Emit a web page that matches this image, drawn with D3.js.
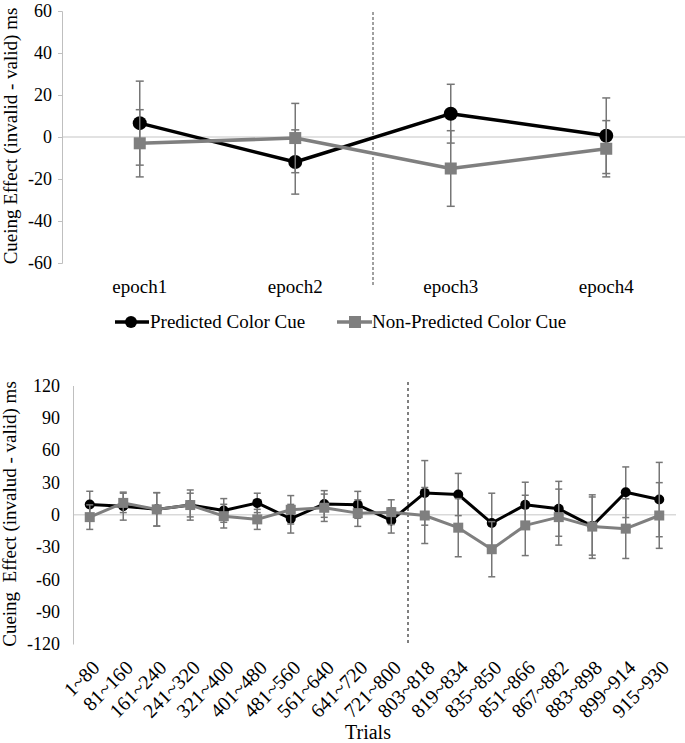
<!DOCTYPE html>
<html>
<head>
<meta charset="utf-8">
<script src="https://cdn.jsdelivr.net/npm/d3@7"></script>
<style>
  html, body { margin: 0; padding: 0; background: #fff; }
</style>
</head>
<body>
<svg id="chart" width="685" height="743"></svg>
<script>
// ---------- Data ----------
const epochs = ["epoch1", "epoch2", "epoch3", "epoch4"];
const predTop = [6.6, -11.9, 11.1, 0.6];
const predTopErr = [20, 15.3, 14, 18];
const nonTop = [-3, -0.5, -15, -5.6];
const nonTopErr = [16, 16.5, 18, 13.4];
const topTicks = [-60, -40, -20, 0, 20, 40, 60];

const trials = ["1~80", "81~160", "161~240", "241~320", "321~400", "401~480", "481~560", "561~640",
  "641~720", "721~800", "803~818", "819~834", "835~850", "851~866", "867~882", "883~898", "899~914", "915~930"];
const predBot = [9.5, 8, 5, 9, 4, 11, -3.7, 10, 9.2, -5.3, 20.3, 18.8, -7.7, 9.2, 5.5, -10.5, 20.9, 14.1];
const predBotErr = [12.3, 13, 15.5, 14, 11, 9, 13.3, 12.4, 12.5, 11.7, 30, 19.6, 27.7, 21, 25.5, 27, 23.5, 34.5];
const nonBot = [-2.2, 11, 5, 9, -1.3, -4.3, 4.6, 6.5, 1.5, 2.4, -0.7, -12, -32, -9.9, -2.2, -11, -12.9, -0.7];
const nonBotErr = [11.4, 9, 15.5, 11, 11, 9.3, 13.2, 12.7, 12.3, 11.5, 26, 27, 25.6, 28, 26, 29.5, 27.7, 30.5];
const botTicks = [-120, -90, -60, -30, 0, 30, 60, 90, 120];

const seriesNames = ["Predicted Color Cue", "Non-Predicted Color Cue"];
const BLACK = "#000000", GRAY = "#7f7f7f", ERR = "#767676";
const FONT = "'Liberation Serif'";
const fmt = v => String(v); // plain hyphen-minus like the reference

const svg = d3.select("#chart");

function txt(sel, size) {
  return sel.style("font-family", FONT).style("font-size", size + "px").attr("fill", "#000");
}

function drawSeries(g, x, y, cats, vals, errs, color, marker, msize, lw, capw) {
  const pts = cats.map((c, i) => ({ c, v: vals[i], e: errs[i] }));
  const eg = g.append("g");
  pts.forEach(p => {
    const cx = x(p.c) + x.bandwidth() / 2;
    eg.append("line").attr("x1", cx).attr("x2", cx).attr("y1", y(p.v + p.e)).attr("y2", y(p.v - p.e))
      .attr("stroke", ERR).attr("stroke-width", 1.5);
    [p.v + p.e, p.v - p.e].forEach(vv => {
      eg.append("line").attr("x1", cx - capw).attr("x2", cx + capw).attr("y1", y(vv)).attr("y2", y(vv))
        .attr("stroke", ERR).attr("stroke-width", 1.5);
    });
  });
  const line = d3.line().x(p => x(p.c) + x.bandwidth() / 2).y(p => y(p.v));
  g.append("path").datum(pts).attr("d", line).attr("fill", "none").attr("stroke", color).attr("stroke-width", lw)
    .attr("stroke-linejoin", "round");
  pts.forEach(p => {
    const cx = x(p.c) + x.bandwidth() / 2, cy = y(p.v);
    if (marker === "circle") {
      g.append("circle").attr("cx", cx).attr("cy", cy).attr("r", msize).attr("fill", color);
    } else {
      g.append("rect").attr("x", cx - msize).attr("y", cy - msize).attr("width", msize * 2).attr("height", msize * 2).attr("fill", color);
    }
  });
}

// ---------- Top chart ----------
{
  const g = svg.append("g");
  const x = d3.scaleBand().domain(epochs).range([62, 684]);
  const y = d3.scaleLinear().domain([-60, 60]).range([263, 11]);

  g.append("line").attr("x1", 62).attr("x2", 685).attr("y1", y(0)).attr("y2", y(0)).attr("stroke", "#d9d9d9").attr("stroke-width", 1.5);
  const ax = d3.axisLeft(y).tickValues(topTicks).tickFormat(fmt).tickSize(4).tickPadding(6);
  const ag = g.append("g").attr("transform", "translate(62,0)").call(ax);
  ag.select(".domain").attr("stroke", "#bfbfbf");
  ag.selectAll(".tick line").attr("stroke", "#bfbfbf");
  txt(ag.selectAll(".tick text"), 18);

  txt(g.selectAll(".xl").data(epochs).enter().append("text")
    .attr("x", d => x(d) + x.bandwidth() / 2).attr("y", 293)
    .attr("text-anchor", "middle").text(d => d), 19);

  const sx = x("epoch3");
  g.append("line").attr("x1", sx).attr("x2", sx).attr("y1", 12).attr("y2", 286)
    .attr("stroke", "#404040").attr("stroke-width", 1).attr("stroke-dasharray", "3,2");

  drawSeries(g, x, y, epochs, predTop, predTopErr, BLACK, "circle", 7, 3.5, 4);
  drawSeries(g, x, y, epochs, nonTop, nonTopErr, GRAY, "square", 6, 3.5, 4);

  txt(g.append("text").attr("transform", "translate(17,136) rotate(-90)").attr("text-anchor", "middle")
    .text("Cueing Effect (invalid - valid) ms"), 19);

  const lg = g.append("g");
  lg.append("line").attr("x1", 115).attr("x2", 149).attr("y1", 322).attr("y2", 322).attr("stroke", BLACK).attr("stroke-width", 3.5);
  lg.append("circle").attr("cx", 131).attr("cy", 322).attr("r", 6).attr("fill", BLACK);
  txt(lg.append("text").attr("x", 150).attr("y", 328).text(seriesNames[0]), 19);
  lg.append("line").attr("x1", 337).attr("x2", 372).attr("y1", 322).attr("y2", 322).attr("stroke", GRAY).attr("stroke-width", 3.5);
  lg.append("rect").attr("x", 349).attr("y", 316).attr("width", 12).attr("height", 12).attr("fill", GRAY);
  txt(lg.append("text").attr("x", 372).attr("y", 328).text(seriesNames[1]), 19);
}

// ---------- Bottom chart ----------
{
  const g = svg.append("g");
  const x = d3.scaleBand().domain(trials).range([73, 676]);
  const y = d3.scaleLinear().domain([-120, 120]).range([644, 385.5]);

  g.append("line").attr("x1", 73).attr("x2", 676).attr("y1", y(0)).attr("y2", y(0)).attr("stroke", "#d9d9d9").attr("stroke-width", 1.5);
  const ax = d3.axisLeft(y).tickValues(botTicks).tickFormat(fmt).tickSize(0).tickPadding(13);
  const ag = g.append("g").attr("transform", "translate(73,0)").call(ax);
  ag.select(".domain").attr("stroke", "#bfbfbf");
  txt(ag.selectAll(".tick text"), 18);

  txt(g.selectAll(".xl").data(trials).enter().append("text")
    .attr("transform", d => `translate(${x(d) + x.bandwidth() / 2 + 11},${669}) rotate(-45)`)
    .attr("text-anchor", "end").text(d => d), 20);

  const sx = x("803~818");
  g.append("line").attr("x1", sx).attr("x2", sx).attr("y1", 382).attr("y2", 646)
    .attr("stroke", "#000").attr("stroke-width", 1).attr("stroke-dasharray", "3,3");

  drawSeries(g, x, y, trials, predBot, predBotErr, BLACK, "circle", 5, 3, 3.5);
  drawSeries(g, x, y, trials, nonBot, nonBotErr, GRAY, "square", 5, 3, 3.5);

  txt(g.append("text").attr("transform", "translate(16,514) rotate(-90)").attr("text-anchor", "middle")
    .attr("xml:space", "preserve").style("white-space", "pre")
    .text("Cueing  Effect (invalud - valid) ms"), 19);

  txt(g.append("text").attr("x", 368).attr("y", 739).attr("text-anchor", "middle").text("Trials"), 20);
}
</script>
</body>
</html>
